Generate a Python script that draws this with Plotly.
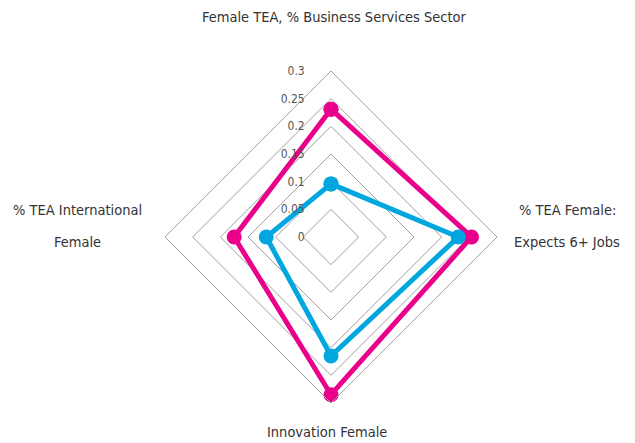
import plotly.graph_objects as go

categories = [
    "Female TEA, % Business Services Sector",
    "% TEA Female: Expects 6+ Jobs",
    "Innovation Female",
    "% TEA International Female",
]
pink_values = [0.231, 0.254, 0.285, 0.175]
blue_values = [0.096, 0.230, 0.215, 0.117]
tick_vals = [0, 0.05, 0.1, 0.15, 0.2, 0.25, 0.3]
tick_text = ["0", "0.05", "0.1", "0.15", "0.2", "0.25", "0.3"]

PINK = "#EA008A"
BLUE = "#00A7DF"
FONT = "DejaVu Sans Condensed, Roboto Condensed, Liberation Sans Narrow, Roboto, sans-serif"

W, H = 635, 443
PAD = "\u00a0" * 7  # pushes the radial tick labels away from the axis


def px(x, y):
    return x / W, 1 - y / H


fig = go.Figure()
for vals, color, name in [(pink_values, PINK, "Series 1"), (blue_values, BLUE, "Series 2")]:
    fig.add_trace(go.Scatterpolar(
        r=vals + vals[:1], theta=categories + categories[:1],
        mode="lines+markers", name=name,
        line=dict(color=color, width=5),
        marker=dict(color=color, size=15),
        showlegend=False,
    ))

x0, y1 = px(165, 71)
x1, y0 = px(497, 403)
fig.update_layout(
    width=W, height=H,
    margin=dict(l=0, r=0, t=0, b=0),
    paper_bgcolor="white",
    font=dict(family=FONT, color="#333", size=14),
    polar=dict(
        domain=dict(x=[x0, x1], y=[y0, y1]),
        bgcolor="white",
        gridshape="linear",
        radialaxis=dict(
            range=[0, 0.3], tickvals=tick_vals,
            ticktext=[t + PAD for t in tick_text],
            angle=90, tickangle=90, side="counterclockwise",
            showline=False, ticks="", gridcolor="#a0a0a0", gridwidth=1,
            tickfont=dict(family=FONT, size=12, color="#555"),
        ),
        angularaxis=dict(
            direction="clockwise", rotation=90,
            showticklabels=False, ticks="", showgrid=False,
            linecolor="#a0a0a0", linewidth=1,
        ),
    ),
)

# axis titles placed around the radar
labels = [
    ("Female TEA, % Business Services Sector", 335, 17),
    ("% TEA Female:", 567, 210),
    ("Expects 6+ Jobs", 567, 242),
    ("Innovation Female", 327, 432),
    ("% TEA International", 77, 210),
    ("Female", 77, 242),
]
for text, x, y in labels:
    ax, ay = px(x, y)
    fig.add_annotation(
        text=text, x=ax, y=ay, xref="paper", yref="paper",
        showarrow=False, xanchor="center", yanchor="middle",
        font=dict(family=FONT, size=14.5, color="#333"),
    )

# drop the default 8px page margin so the figure fills the window
fig.write_html(
    "out.html",
    config={"displayModeBar": False},
    post_script="document.body.style.margin = '0';",
)
